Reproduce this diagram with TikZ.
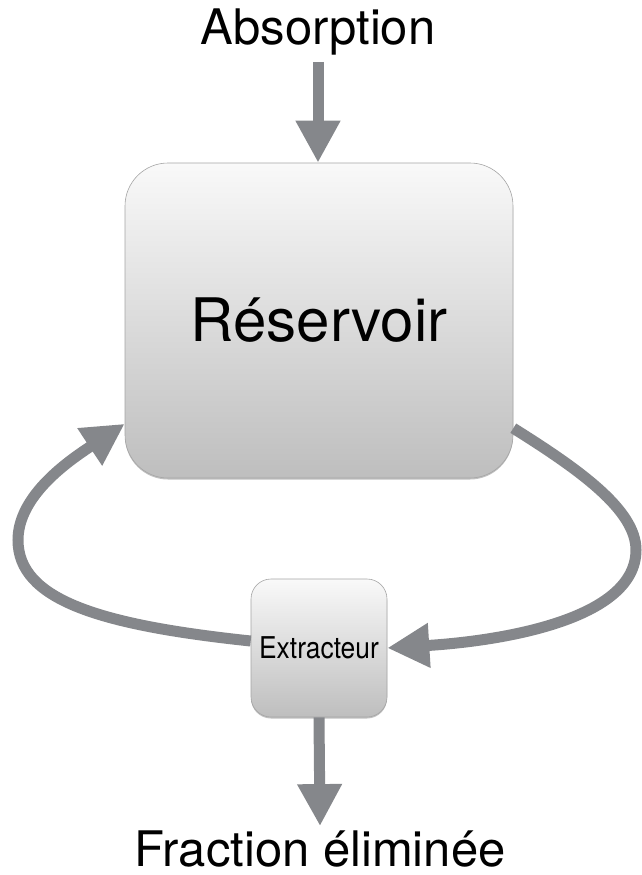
\documentclass[tikz,border=0pt]{standalone}
\usepackage{fontspec}
\setmainfont{TeX Gyre Heros}
\newfontfamily\narrowfont[FakeStretch=0.88]{TeX Gyre Heros}
\usepackage{tikz}
\usetikzlibrary{arrows.meta, shadows}

\definecolor{flowgray}{RGB}{133,135,139}
\definecolor{boxtop}{RGB}{249,249,249}
\definecolor{boxbottom}{RGB}{190,190,190}
\definecolor{boxedge}{RGB}{165,165,165}

\begin{document}
\begin{tikzpicture}[x=1pt, y=-1pt,
    box/.style={draw=boxedge, line width=0.6pt, rounded corners=#1,
        top color=boxtop, bottom color=boxbottom,
        drop shadow={shadow xshift=0pt, shadow yshift=-1.5pt, opacity=0.35, fill=black!70}},
    label/.style={inner sep=6pt, font=\fontsize{49}{58}\selectfont},
    flow/.style={draw=flowgray, line width=11pt,
        -{Triangle[length=42pt, width=42pt]}}]
    \useasboundingbox (0,0) rectangle (642,875);

    % Nodes
    \node[label, anchor=base] (absorption) at (318,45) {Absorption};
    \node[box=43pt, minimum width=388pt, minimum height=315pt,
          font=\fontsize{60}{72}\selectfont] (reservoir) at (319,320.5) {Réservoir};
    \node[box=20pt, minimum width=136pt, minimum height=138pt, inner sep=0pt,
          font=\narrowfont\fontsize{30}{36}\selectfont] (extracteur) at (319,648) {Extracteur};
    \node[label, anchor=base] (fraction) at (320,866) {Fraction éliminée};

    % Connections
    \draw[flow] (absorption.south) -- (absorption.south |- reservoir.north);
    \draw[flow] ([yshift=7pt]extracteur.west)
        .. controls (100,625) and (18,600) .. (18,540)
        .. controls (18,495) and (70,460) .. (reservoir.208);
    \draw[flow] (reservoir.331)
        .. controls (580,470) and (636,510) .. (636,550)
        .. controls (636,620) and (500,641) .. (extracteur.east);
    \draw[flow] (extracteur.south) -- ([yshift=-2pt]fraction.north);
\end{tikzpicture}
\end{document}
